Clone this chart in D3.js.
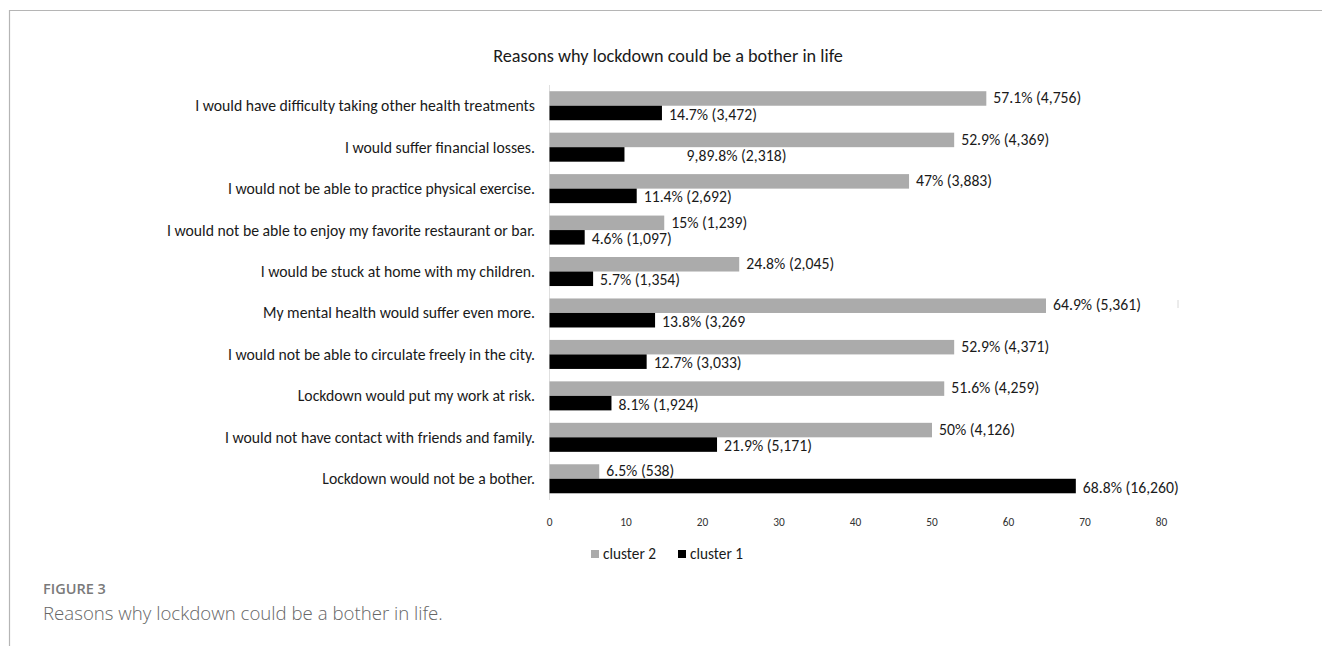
<!DOCTYPE html>
<html>
<head>
<meta charset="utf-8">
<script src="https://cdn.jsdelivr.net/npm/d3@7"></script>
<style>
  html, body { margin: 0; padding: 0; background: #fff; }
  svg { display: block; }
  .lbl { font-family: Carlito, Lato, "Open Sans", sans-serif; }
  .cap { font-family: "Open Sans", Lato, sans-serif; }
</style>
</head>
<body>
<div id="chart"></div>
<script>
// Categories top to bottom
const categories = [
  "I would have difficulty taking other health treatments",
  "I would suffer financial losses.",
  "I would not be able to practice physical exercise.",
  "I would not be able to enjoy my favorite restaurant or bar.",
  "I would be stuck at home with my children.",
  "My mental health would suffer even more.",
  "I would not be able to circulate freely in the city.",
  "Lockdown would put my work at risk.",
  "I would not have contact with friends and family.",
  "Lockdown would not be a bother."
];

const cluster2 = [57.1, 52.9, 47, 15, 24.8, 64.9, 52.9, 51.6, 50, 6.5];
const cluster1 = [14.7, 9.8, 11.4, 4.6, 5.7, 13.8, 12.7, 8.1, 21.9, 68.8];

const cluster2Labels = [
  "57.1% (4,756)", "52.9% (4,369)", "47% (3,883)", "15% (1,239)", "24.8% (2,045)",
  "64.9% (5,361)", "52.9% (4,371)", "51.6% (4,259)", "50% (4,126)", "6.5% (538)"
];
const cluster1Labels = [
  "14.7% (3,472)", "9,89.8% (2,318)", "11.4% (2,692)", "4.6% (1,097)", "5.7% (1,354)",
  "13.8% (3,269", "12.7% (3,033)", "8.1% (1,924)", "21.9% (5,171)", "68.8% (16,260)"
];

const xTicks = [0, 10, 20, 30, 40, 50, 60, 70, 80];

const W = 1322, H = 646;
const GRAY = "#ababab";

const svg = d3.select("#chart").append("svg")
  .attr("width", W).attr("height", H);

// pick a font size so that a sample string gets the width seen in the figure
function fitSize(cls, weight, sample, targetWidth) {
  const t = svg.append("text").attr("class", cls)
    .attr("font-size", 20).attr("font-weight", weight).text(sample);
  const w = t.node().getComputedTextLength();
  t.remove();
  return 20 * targetWidth / w;
}

const catSize   = fitSize("lbl", 400, categories[0], 340);
const valSize   = fitSize("lbl", 400, cluster2Labels[0], 88);
const titleSize = fitSize("lbl", 400, "Reasons why lockdown could be a bother in life", 350);
const legSize   = fitSize("lbl", 400, "cluster 2", 53);
const tickSize  = legSize * 0.74;
const figSize   = fitSize("cap", 600, "FIGURE 3", 63);
const capSize   = fitSize("cap", 300, "Reasons why lockdown could be a bother in life.", 400);

// page frame
svg.append("line").attr("x1", 9).attr("x2", W).attr("y1", 10.5).attr("y2", 10.5)
  .attr("stroke", "#b5b5b5").attr("stroke-width", 1.2);
svg.append("line").attr("x1", 9.5).attr("x2", 9.5).attr("y1", 10).attr("y2", H)
  .attr("stroke", "#b5b5b5").attr("stroke-width", 1.2);

const x = d3.scaleLinear().domain([0, 80]).range([549.5, 1161.5]);
const y = d3.scaleBand().domain(categories).range([85, 499.5])
  .paddingInner(0.3).paddingOuter(0.15);
const sub = d3.scaleBand().domain(["c2", "c1"]).range([0, y.bandwidth()]);

// title
svg.append("text").attr("class", "lbl")
  .attr("x", 668).attr("y", 56)
  .attr("dy", "0.35em")
  .attr("text-anchor", "middle")
  .attr("font-size", titleSize).attr("fill", "#1a1a1a")
  .text("Reasons why lockdown could be a bother in life");

// vertical axis line
svg.append("line")
  .attr("x1", x(0)).attr("x2", x(0))
  .attr("y1", 85).attr("y2", 500)
  .attr("stroke", "#e0e0e0");

// small stray mark right of the plot
svg.append("line")
  .attr("x1", 1178).attr("x2", 1178)
  .attr("y1", 300).attr("y2", 308)
  .attr("stroke", "#d8d8d8");

// category labels
svg.append("g").selectAll("text")
  .data(categories).join("text")
  .attr("class", "lbl")
  .attr("x", 535)
  .attr("y", d => y(d) + y.bandwidth() / 2)
  .attr("dy", "0.35em")
  .attr("text-anchor", "end")
  .attr("font-size", catSize).attr("fill", "#1a1a1a")
  .text(d => d);

const rows = categories.map((c, i) => ({
  cat: c, v2: cluster2[i], v1: cluster1[i], l2: cluster2Labels[i], l1: cluster1Labels[i]
}));

// cluster 2 bars
svg.append("g").selectAll("rect")
  .data(rows).join("rect")
  .attr("x", x(0))
  .attr("y", d => y(d.cat) + sub("c2"))
  .attr("width", d => x(d.v2) - x(0))
  .attr("height", sub.bandwidth())
  .attr("fill", GRAY);

// cluster 1 bars
svg.append("g").selectAll("rect")
  .data(rows).join("rect")
  .attr("x", x(0))
  .attr("y", d => y(d.cat) + sub("c1"))
  .attr("width", d => x(d.v1) - x(0))
  .attr("height", sub.bandwidth())
  .attr("fill", "#000");

// value labels (the odd "9,89.8%" label sits further right in the original)
const labelAt = d => d.l1.startsWith("9,89") ? 17 : d.v1;

svg.append("g").selectAll("text")
  .data(rows).join("text")
  .attr("class", "lbl")
  .attr("x", d => x(d.v2) + 7)
  .attr("y", d => y(d.cat) + sub("c2") + sub.bandwidth() / 2)
  .attr("dy", "0.3em")
  .attr("font-size", valSize).attr("fill", "#1a1a1a")
  .text(d => d.l2);

svg.append("g").selectAll("text")
  .data(rows).join("text")
  .attr("class", "lbl")
  .attr("x", d => x(labelAt(d)) + 7)
  .attr("y", d => y(d.cat) + sub("c1") + sub.bandwidth() / 2)
  .attr("dy", "0.42em")
  .attr("font-size", valSize).attr("fill", "#1a1a1a")
  .text(d => d.l1);

// x tick labels
svg.append("g").selectAll("text")
  .data(xTicks).join("text")
  .attr("class", "lbl")
  .attr("x", d => x(d))
  .attr("y", 522)
  .attr("dy", "0.35em")
  .attr("text-anchor", "middle")
  .attr("font-size", tickSize).attr("fill", "#333")
  .text(d => d);

// legend, centred under the plot
const legend = [
  { name: "cluster 2", color: GRAY },
  { name: "cluster 1", color: "#000" }
];
const lg = svg.append("g").attr("transform", "translate(591,554)")
  .selectAll("g").data(legend).join("g")
  .attr("transform", (d, i) => `translate(${i * 87},0)`);
lg.append("rect").attr("y", -4).attr("width", 8).attr("height", 8).attr("fill", d => d.color);
lg.append("text").attr("class", "lbl")
  .attr("x", 12).attr("y", 0).attr("dy", "0.35em")
  .attr("font-size", legSize).attr("fill", "#1a1a1a")
  .text(d => d.name);

// figure caption
svg.append("text").attr("class", "cap")
  .attr("x", 43).attr("y", 594)
  .attr("font-weight", 600).attr("font-size", figSize)
  .attr("fill", "#7a7a7a")
  .text("FIGURE 3");
svg.append("text").attr("class", "cap")
  .attr("x", 43).attr("y", 620)
  .attr("font-weight", 300).attr("font-size", capSize)
  .attr("fill", "#666")
  .text("Reasons why lockdown could be a bother in life.");
</script>
</body>
</html>
